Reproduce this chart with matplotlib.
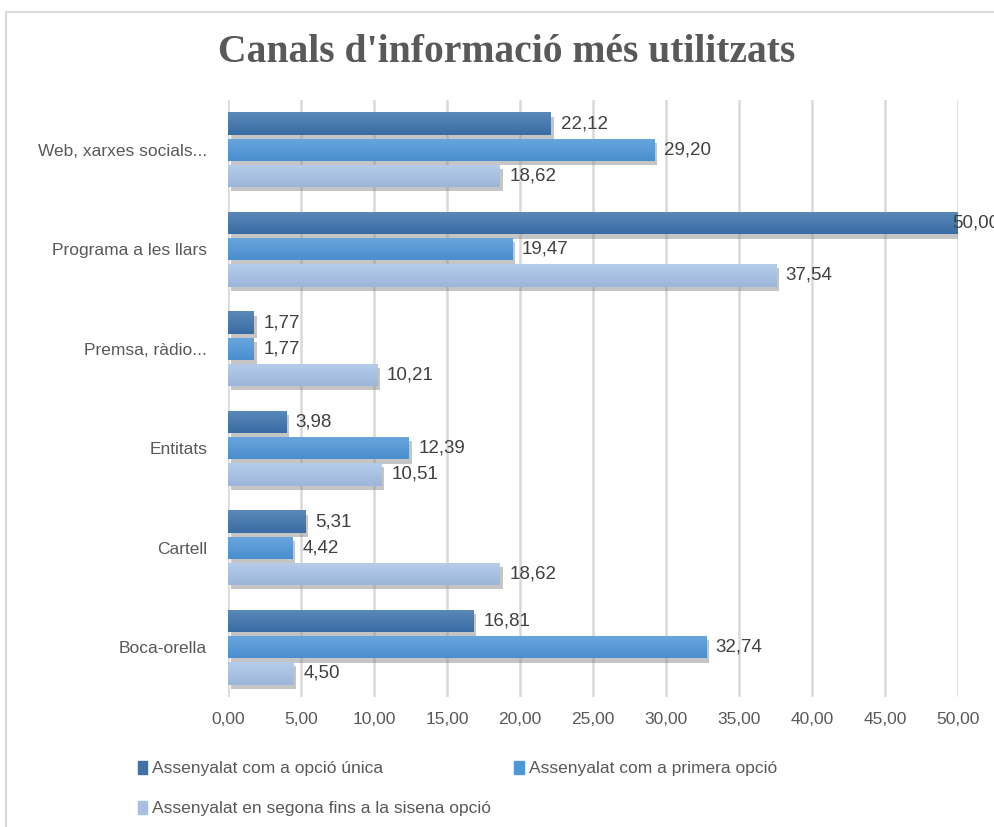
import matplotlib.pyplot as plt
import matplotlib.patheffects as pe
from matplotlib.colors import LinearSegmentedColormap
from matplotlib.patches import Rectangle
import numpy as np

categories = ['Web, xarxes socials...', 'Programa a les llars', 'Premsa, ràdio...',
              'Entitats', 'Cartell', 'Boca-orella']
series_names = ['Assenyalat com a opció única',
                'Assenyalat com a primera opció',
                'Assenyalat en segona fins a la sisena opció']
unica = [22.12, 50.00, 1.77, 3.98, 5.31, 16.81]
primera = [29.20, 19.47, 1.77, 12.39, 4.42, 32.74]
segona = [18.62, 37.54, 10.21, 10.51, 18.62, 4.50]
xticks = [0, 5, 10, 15, 20, 25, 30, 35, 40, 45, 50]

# top colour, bottom colour, legend colour for each series
shades = [('#5b89ba', '#396ca3', '#3e72a8'),
          ('#6aa6dd', '#4a8ecf', '#5097d6'),
          ('#b6cdea', '#9cb6db', '#a8c1e3')]

plt.rcParams['font.family'] = ['Liberation Sans', 'DejaVu Sans']
grey = '#595959'

fig = plt.figure(figsize=(9.94, 8.27), dpi=100)
fig.patches.append(Rectangle((6 / 994, -0.1), 1.2, 1 - 12 / 827 + 0.1,
                             transform=fig.transFigure, fill=False,
                             edgecolor='#d9d9d9', lw=1.5))
ax = fig.add_axes([228 / 994, 1 - 697 / 827, (958 - 228) / 994, (697 - 100) / 827])

n = len(categories)
pos = np.arange(n)[::-1]
h = 0.225
step = 0.262
grad = np.linspace(0, 1, 64).reshape(-1, 1)

for i, vals in enumerate([unica, primera, segona]):
    top, bot, mid = shades[i]
    y = pos + (1 - i) * step
    bars = ax.barh(y, vals, height=h, color=mid, zorder=3,
                   path_effects=[pe.SimplePatchShadow(offset=(2, -3), shadow_rgbFace='#7f7f7f', alpha=0.45),
                                 pe.Normal()])
    cmap = LinearSegmentedColormap.from_list('g%d' % i, [bot, top])
    for b, v in zip(bars, vals):
        x0, y0 = b.get_x(), b.get_y()
        im = ax.imshow(grad, cmap=cmap, aspect='auto', zorder=4,
                       extent=[x0, x0 + b.get_width(), y0 + b.get_height(), y0],
                       origin='upper')
        im.set_clip_path(b)
        dx = 7 if v < 49 else -4
        ax.annotate(f'{v:.2f}'.replace('.', ','), (v, b.get_y() + b.get_height() / 2),
                    xytext=(dx, 0), textcoords='offset points', va='center', ha='left',
                    fontsize=13.5, color='#404040', zorder=6, annotation_clip=False)

ax.set_xlim(0, 50)
ax.set_ylim(-0.5, n - 0.5)
ax.set_xticks(xticks)
ax.set_xticklabels([f'{t:.2f}'.replace('.', ',') for t in xticks], fontsize=12.5, color=grey)
ax.set_yticks(pos)
ax.set_yticklabels(categories, fontsize=12.5, color=grey)
ax.tick_params(axis='x', length=0, pad=11)
ax.tick_params(axis='y', length=0, pad=15)
ax.grid(axis='x', color='#d9d9d9', lw=1.8, zorder=0)
for s in ax.spines.values():
    s.set_visible(False)

fig.text(0.51, 1 - 52 / 827, "Canals d'informació més utilitzats", ha='center', va='center',
         fontsize=28.5, fontweight='bold', family='Liberation Serif', color=grey)

# legend fills column-wise, so order the entries to read row by row
handles = [Rectangle((0, 0), 1, 1, color=c[2]) for c in shades]
order = [0, 2, 1]
fig.legend([handles[k] for k in order], [series_names[k] for k in order], ncol=2,
           loc='upper left', bbox_to_anchor=(122 / 994, 1 - 745 / 827),
           frameon=False, fontsize=12.5, labelcolor=grey, handlelength=0.55, handleheight=0.8,
           handletextpad=0.3, columnspacing=1.3, labelspacing=1.4)

fig.savefig('out.png', dpi=100)
